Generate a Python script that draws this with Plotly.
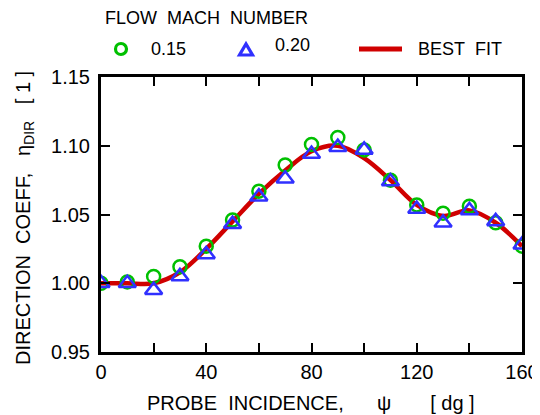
import plotly.graph_objects as go

# probe incidence angle [deg]
psi = [0, 10, 20, 30, 40, 50, 60, 70, 80, 90, 100, 110, 120, 130, 140, 150, 160]

# measured direction coefficient
eta_m015 = [1.000, 1.001, 1.005, 1.012, 1.027, 1.046, 1.067, 1.086, 1.101, 1.106,
            1.097, 1.075, 1.057, 1.051, 1.056, 1.044, 1.027]
eta_m020 = [1.000, 1.000, 0.995, 1.005, 1.021, 1.043, 1.063, 1.076, 1.094, 1.099,
            1.097, 1.074, 1.054, 1.044, 1.053, 1.045, 1.028]

# best fit curve
fit_psi = [0, 10, 20, 30, 40, 50, 60, 70, 80, 90, 100, 110, 120, 130, 140, 150, 160]
fit_eta = [1.000, 1.000, 1.000, 1.008, 1.025, 1.045, 1.065, 1.082, 1.096, 1.100,
           1.091, 1.075, 1.057, 1.049, 1.053, 1.044, 1.027]

FONT = "Liberation Sans, Arial, sans-serif"
GREEN = "#00c000"
BLUE = "#3030ff"
RED = "#d00000"
SP = "\u00a0"

# the page body adds an 8px margin, so the figure is drawn 8px smaller/shifted
OFF = 8
W, H = 540 - OFF, 415 - OFF
# plot box in screen pixels (for placing the hand-made legend)
L, R, T, B = 101, 522, 77, 352


def px(x):
    return (x - L) / (R - L)


def py(y):
    return (B - y) / (B - T)


fig = go.Figure()
fig.add_trace(go.Scatter(
    x=fit_psi, y=fit_eta, mode="lines", name="BEST  FIT",
    line=dict(color=RED, width=4.5, shape="spline", smoothing=1.0),
))
fig.add_trace(go.Scatter(
    x=psi, y=eta_m015, mode="markers", name="0.15",
    marker=dict(symbol="circle-open", size=13, color=GREEN, line=dict(width=2.5)),
))
fig.add_trace(go.Scatter(
    x=psi, y=eta_m020, mode="markers", name="0.20",
    marker=dict(symbol="triangle-up-open", size=15, color=BLUE, line=dict(width=2.5)),
))

axis_common = dict(
    showline=True, linewidth=3, linecolor="black", mirror="ticks",
    ticks="inside", ticklen=9, tickwidth=1.5, tickcolor="black",
    showgrid=False, zeroline=False, automargin=False,
    tickfont=dict(family=FONT, size=20, color="black"),
)

fig.update_xaxes(
    range=[0, 160], dtick=40, tick0=0,
    minor=dict(dtick=20, ticks="inside", ticklen=9, tickwidth=1.5, tickcolor="black"),
    **axis_common,
)
fig.update_yaxes(
    range=[0.95, 1.15], dtick=0.05, tickformat=".2f", ticklabelstandoff=4,
    **axis_common,
)

xtitle = f"PROBE{SP*2}INCIDENCE,{SP*6}\u03c8{SP*7}[{SP}dg{SP}]"
ytitle = f"DIRECTION{SP*2}COEFF,{SP*3}\u03b7<sub>DIR</sub>{SP*3}[{SP}1{SP}]"
txt = dict(family=FONT, size=18, color="black")
annotations = [
    dict(text=xtitle, x=px(311), y=py(403), xanchor="center", yanchor="middle",
         font=dict(family=FONT, size=20, color="black")),
    dict(text=ytitle, x=px(24), y=py(218), xanchor="center", yanchor="middle",
         textangle=-90, font=dict(family=FONT, size=20, color="black")),
    dict(text=f"FLOW{SP*2}MACH{SP*2}NUMBER", x=px(103), y=py(18),
         xanchor="left", yanchor="middle", font=txt),
    dict(text="0.15", x=px(149), y=py(49), xanchor="left", yanchor="middle", font=txt),
    dict(text="0.20", x=px(273), y=py(45), xanchor="left", yanchor="middle", font=txt),
    dict(text=f"BEST{SP*2}FIT", x=px(416), y=py(49), xanchor="left", yanchor="middle", font=txt),
]
for a in annotations:
    a.update(xref="paper", yref="paper", showarrow=False)

shapes = [
    dict(type="circle", xref="paper", yref="paper", xsizemode="pixel", ysizemode="pixel",
         xanchor=px(121), yanchor=py(49), x0=-5.5, x1=5.5, y0=-5.5, y1=5.5,
         line=dict(color=GREEN, width=3.2)),
    dict(type="path", xref="paper", yref="paper", xsizemode="pixel", ysizemode="pixel",
         xanchor=px(246), yanchor=py(50), path="M -6.5,-5 L 6.5,-5 L 0,6 Z",
         line=dict(color=BLUE, width=3.2)),
    dict(type="line", xref="paper", yref="paper", x0=px(359), x1=px(402),
         y0=py(49), y1=py(49), line=dict(color=RED, width=5)),
]

fig.update_layout(
    width=W, height=H,
    margin=dict(l=L - OFF, r=540 - R, t=T - OFF, b=415 - B),
    paper_bgcolor="white", plot_bgcolor="white",
    font=dict(family=FONT, color="black"),
    showlegend=False,
    annotations=annotations,
    shapes=shapes,
)

fig.write_html("out.html")
